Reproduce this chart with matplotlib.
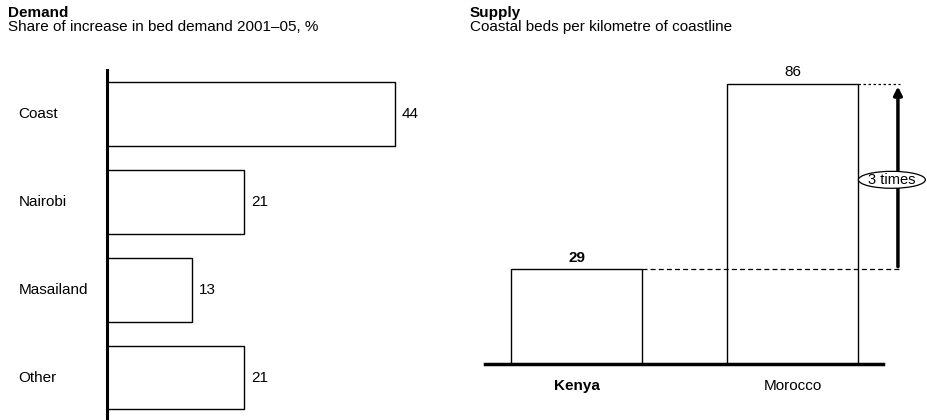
import matplotlib.pyplot as plt
from matplotlib.patches import Ellipse

plt.rcParams['font.family'] = ['Liberation Sans', 'DejaVu Sans']

# Demand data
regions = ['Coast', 'Nairobi', 'Masailand', 'Other']
demand_share = [44, 21, 13, 21]

# Supply data
countries = ['Kenya', 'Morocco']
beds_per_km = [29, 86]

W, H = 928, 420
FS = 11
fig = plt.figure(figsize=(W / 100, H / 100), dpi=100)

def box(x0, y0, x1, y1):
    # pixel box (from top-left) -> figure fraction rect
    return [x0 / W, 1 - y1 / H, (x1 - x0) / W, (y1 - y0) / H]

# ---- Demand panel ----
ax1 = fig.add_axes(box(107, 70, 434, 420))
pos = range(len(regions))
ax1.barh(pos, demand_share, height=0.72, color='white', edgecolor='black', linewidth=1)
ax1.set_xlim(0, 50)
ax1.set_ylim(3.48, -0.5)
for s in ['top', 'right', 'bottom']:
    ax1.spines[s].set_visible(False)
ax1.spines['left'].set_linewidth(2.2)
ax1.set_xticks([])
ax1.set_yticks([])
for i, (r, v) in enumerate(zip(regions, demand_share)):
    ax1.text(-13.5, i, r, ha='left', va='center', fontsize=FS)
    ax1.text(v + 1.0, i, str(v), ha='left', va='center', fontsize=FS)

fig.text(8 / W, 1 - 13 / H, 'Demand', fontsize=FS, fontweight='bold', va='center')
fig.text(8 / W, 1 - 27 / H, 'Share of increase in bed demand 2001\u201305, %', fontsize=FS, va='center')

# ---- Supply panel ----
ax2 = fig.add_axes(box(485, 70, 915, 364))
ax2.bar([0, 1], beds_per_km, width=0.61, color='white', edgecolor='black', linewidth=1)
ax2.set_xlim(-0.424, 1.567)
ax2.set_ylim(0, 294 / 3.26)
for s in ['top', 'right', 'left']:
    ax2.spines[s].set_visible(False)
ax2.spines['bottom'].set_linewidth(2.5)
ax2.spines['bottom'].set_bounds(-0.424, 1.42)
ax2.set_xticks([])
ax2.set_yticks([])

ax2.text(0, beds_per_km[0] + 1.3, str(beds_per_km[0]), ha='center', va='bottom',
         fontsize=FS, fontweight='bold')
ax2.text(1, beds_per_km[1] + 1.3, str(beds_per_km[1]), ha='center', va='bottom', fontsize=FS)
ax2.text(0, -6.8, countries[0], ha='center', va='center', fontsize=FS, fontweight='bold', clip_on=False)
ax2.text(1, -6.8, countries[1], ha='center', va='center', fontsize=FS, clip_on=False)

# dashed guides and arrow
ax2.plot([0.305, 1.497], [beds_per_km[0]] * 2, ls=(0, (4, 2.5)), color='black', lw=0.9, clip_on=False)
ax2.plot([1.305, 1.497], [beds_per_km[1]] * 2, ls=(0, (2, 2)), color='black', lw=0.9, clip_on=False)
ax2.annotate('', xy=(1.488, beds_per_km[1]), xytext=(1.488, beds_per_km[0]),
             arrowprops=dict(arrowstyle='-|>', color='black', lw=2.5, mutation_scale=12),
             annotation_clip=False)
ax2.add_patch(Ellipse((1.46, 56.5), 0.31, 5.2, facecolor='white', edgecolor='black',
                      lw=0.9, clip_on=False, zorder=5))
ax2.text(1.46, 56.5, '3 times', ha='center', va='center', fontsize=FS - 0.5, zorder=6, clip_on=False)

fig.text(470 / W, 1 - 13 / H, 'Supply', fontsize=FS, fontweight='bold', va='center')
fig.text(470 / W, 1 - 27 / H, 'Coastal beds per kilometre of coastline', fontsize=FS, va='center')

fig.savefig('out.png', dpi=100)
